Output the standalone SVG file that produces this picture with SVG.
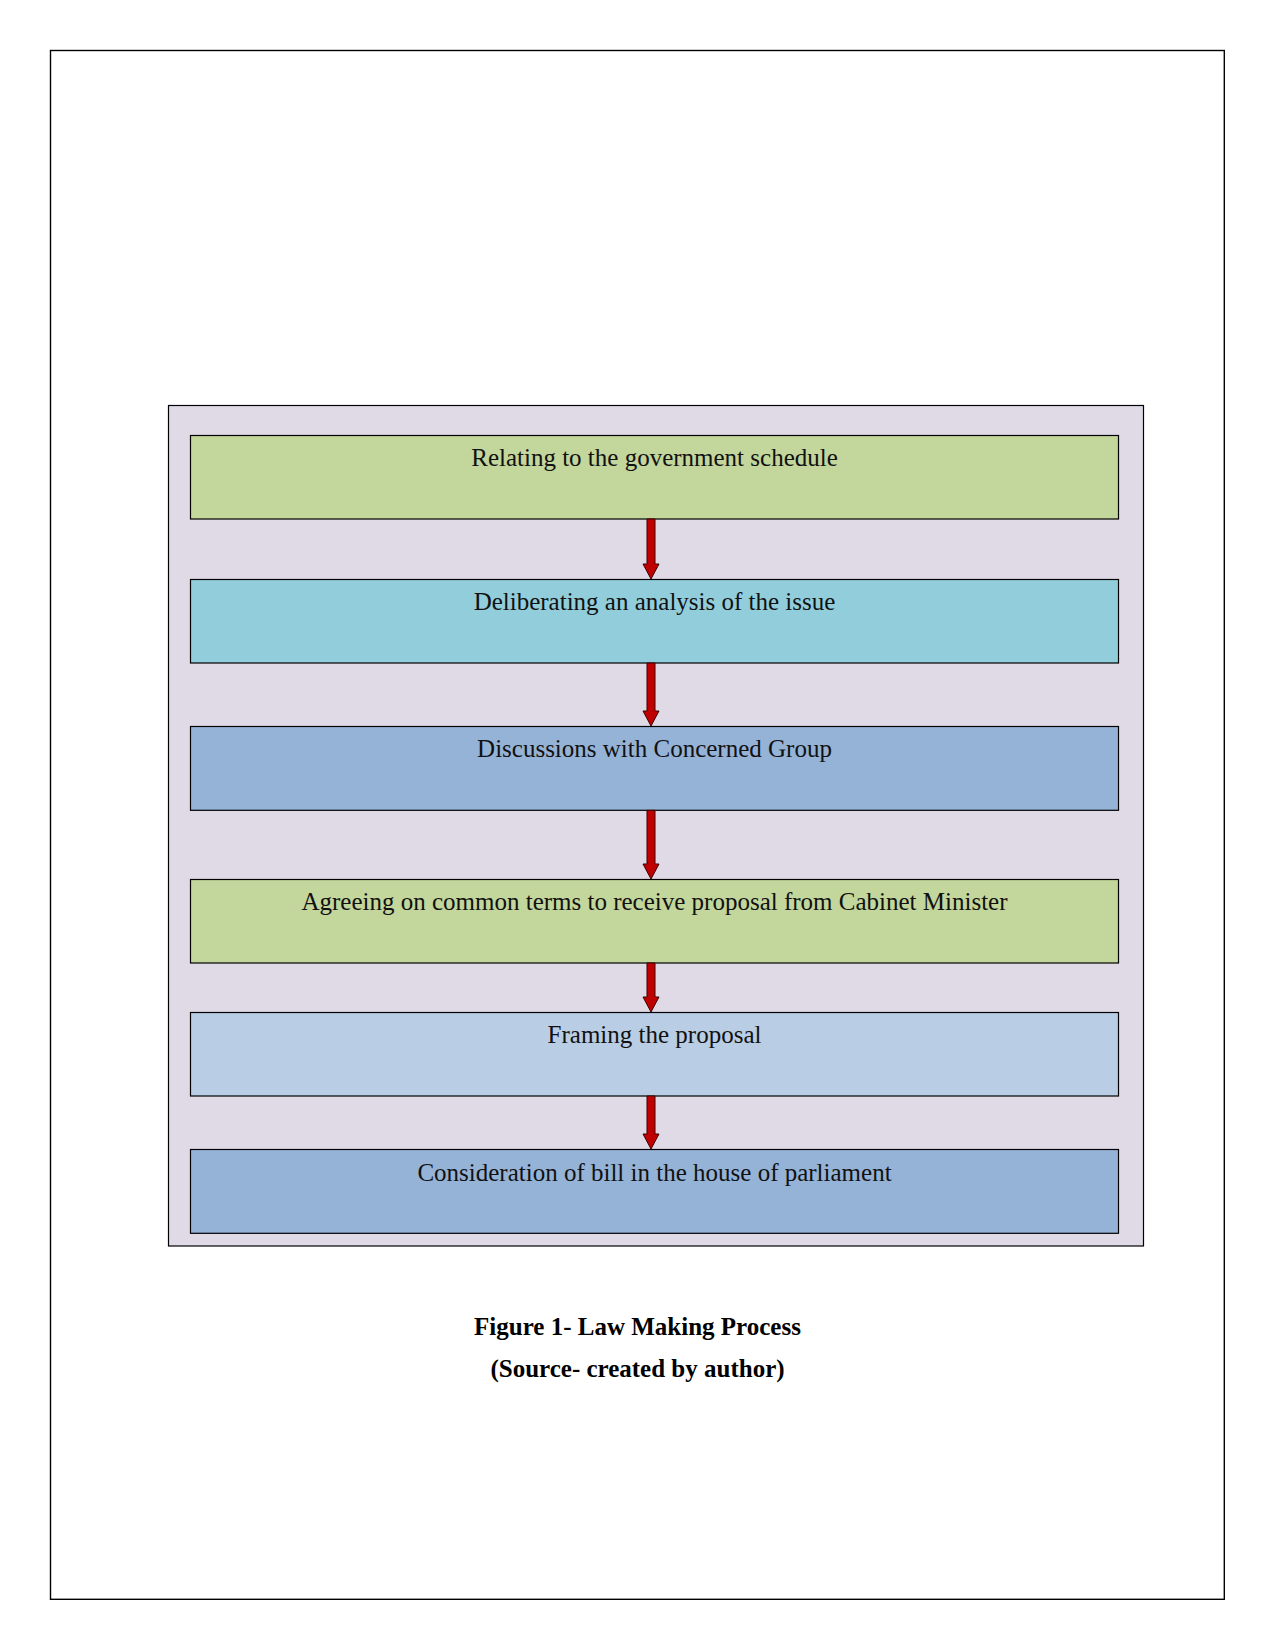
<svg xmlns="http://www.w3.org/2000/svg" width="1275" height="1651" viewBox="0 0 1275 1651">
<style>
.box{stroke:#000;stroke-width:1.2}
.lbl{font-family:"Liberation Serif","Times New Roman",serif;font-size:25px;fill:#111;text-anchor:middle}
.cap{font-family:"Liberation Serif","Times New Roman",serif;font-size:25px;font-weight:bold;fill:#000;text-anchor:middle}
.arr{fill:#C00000;stroke:#400000;stroke-width:1}
</style>
<rect width="1275" height="1651" fill="#fff"/>
<rect x="50.5" y="50.5" width="1173.8" height="1548.8" fill="none" stroke="#000" stroke-width="1.4"/>
<g id="panel">
<rect x="168.5" y="405.5" width="975" height="840.5" fill="#E0DAE7" stroke="#000" stroke-width="1.2"/>
</g>
<g id="node1">
<rect class="box" x="190.5" y="435.5" width="928" height="83.5" fill="#C3D69B"/>
<text class="lbl" x="654.5" y="466">Relating to the government schedule</text>
</g>
<g id="node2">
<rect class="box" x="190.5" y="579.5" width="928" height="83.5" fill="#92CDDC"/>
<text class="lbl" x="654.5" y="610">Deliberating an analysis of the issue</text>
</g>
<g id="node3">
<rect class="box" x="190.5" y="726.5" width="928" height="83.8" fill="#95B3D7"/>
<text class="lbl" x="654.5" y="757">Discussions with Concerned Group</text>
</g>
<g id="node4">
<rect class="box" x="190.5" y="879.5" width="928" height="83.5" fill="#C3D69B"/>
<text class="lbl" x="654.5" y="910">Agreeing on common terms to receive proposal from Cabinet Minister</text>
</g>
<g id="node5">
<rect class="box" x="190.5" y="1012.5" width="928" height="83.5" fill="#B9CDE5"/>
<text class="lbl" x="654.5" y="1043">Framing the proposal</text>
</g>
<g id="node6">
<rect class="box" x="190.5" y="1149.5" width="928" height="83.8" fill="#95B3D7"/>
<text class="lbl" x="654.5" y="1180.5">Consideration of bill in the house of parliament</text>
</g>
<g id="connectors">
<polygon class="arr" points="647,519 655,519 655,564 659,564 651,579 643,564 647,564"/>
<polygon class="arr" points="647,663 655,663 655,711 659,711 651,726 643,711 647,711"/>
<polygon class="arr" points="647,810.3 655,810.3 655,864 659,864 651,879 643,864 647,864"/>
<polygon class="arr" points="647,963 655,963 655,997 659,997 651,1012 643,997 647,997"/>
<polygon class="arr" points="647,1096 655,1096 655,1134 659,1134 651,1149 643,1134 647,1134"/>
</g>
<g id="caption">
<text class="cap" x="637.5" y="1334.5">Figure 1- Law Making Process</text>
<text class="cap" x="637.5" y="1377">(Source- created by author)</text>
</g>
</svg>
